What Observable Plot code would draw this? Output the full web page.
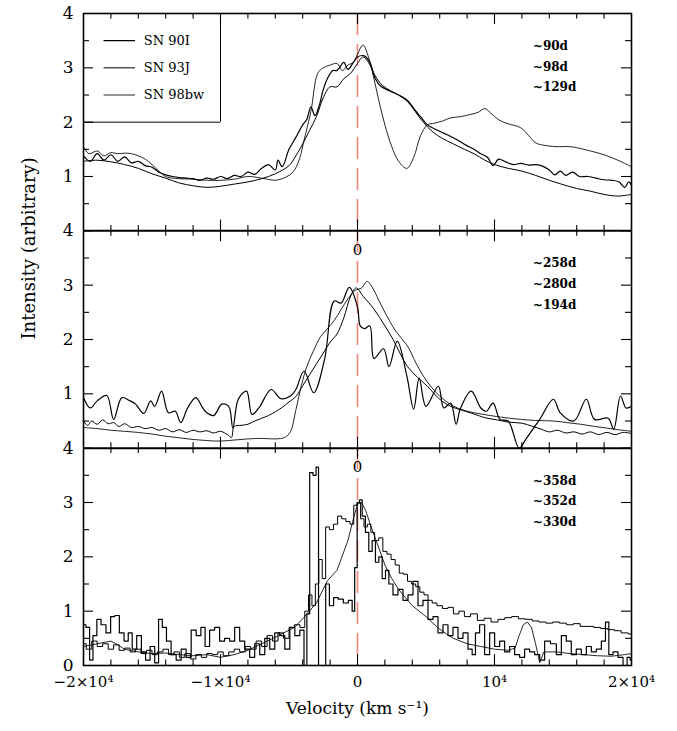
<!DOCTYPE html>
<html><head><meta charset="utf-8">
<script src="https://cdn.jsdelivr.net/npm/d3@7"></script>
<script src="https://cdn.jsdelivr.net/npm/@observablehq/plot@0.6"></script>
<style>body{margin:0;background:#fff}svg{display:block}</style>
</head><body><div id="chart"></div>
<script>
// ---------------- DATA (velocity km/s, intensity arbitrary) ----------------
const seriesNames = ["SN 90I", "SN 93J", "SN 98bw"];
const topEpochs = ["~90d", "~98d", "~129d"];
const midEpochs = ["~258d", "~280d", "~194d"];
const botEpochs = ["~358d", "~352d", "~330d"];

const xTickValues = [-20000, -10000, 0, 10000, 20000];
const xTickLabels = ["\u22122\u00d710\u2074", "\u22121\u00d710\u2074", "0", "10\u2074", "2\u00d710\u2074"];
const yTickValues = [0,1,2,3,4,5,6,7,8,9,10,11,12];
const yTickLabels = ["0","1","2","3","4","1","2","3","4","1","2","3","4"];

// Top panel
const top90I = [[-20000,1.38],[-19500,1.28],[-19000,1.42],[-18500,1.3],[-18000,1.4],[-17500,1.28],[-17000,1.36],[-16500,1.25],[-16000,1.28],[-15500,1.2],[-15000,1.17],[-14500,1.08],[-14000,1.03],[-13500,1.0],[-13000,0.98],[-12500,0.97],[-12000,0.96],[-11500,0.93],[-11000,0.97],[-10500,0.95],[-10000,1.0],[-9500,0.96],[-9000,1.02],[-8500,1.0],[-8000,1.08],[-7500,1.04],[-7000,1.15],[-6500,1.22],[-6000,1.12],[-5800,1.3],[-5500,1.18],[-5000,1.5],[-4500,1.72],[-4000,1.95],[-3700,2.05],[-3400,2.28],[-3100,2.12],[-2800,2.3],[-2500,2.6],[-2200,2.8],[-1800,2.95],[-1500,2.95],[-1000,3.1],[-700,2.97],[-300,3.1],[0,3.2],[500,3.22],[900,3.1],[1300,2.8],[1700,2.66],[2400,2.57],[3000,2.5],[3650,2.4],[4200,2.22],[4600,2.1],[5100,1.95],[5600,1.88],[6100,1.82],[6700,1.75],[7300,1.67],[7900,1.58],[8500,1.5],[9000,1.42],[9500,1.35],[9900,1.2],[10300,1.32],[10800,1.27],[11400,1.22],[11900,1.24],[12500,1.21],[13000,1.22],[13400,1.2],[14000,1.12],[14400,1.03],[14800,1.1],[15200,1.02],[15700,1.08],[16200,1.0],[16800,1.0],[17400,0.97],[18000,0.94],[18600,0.93],[19100,0.9],[19500,0.8],[19800,0.9],[20000,0.84]];
const top93J = [[-20000,1.28],[-19000,1.3],[-18000,1.27],[-17000,1.22],[-16000,1.15],[-15000,1.05],[-14000,0.97],[-13000,0.88],[-12000,0.83],[-11000,0.8],[-10000,0.82],[-9000,0.86],[-8000,0.9],[-7000,0.96],[-6000,1.05],[-5000,1.2],[-4500,1.38],[-4000,1.6],[-3500,1.85],[-3000,2.1],[-2500,2.45],[-2000,2.65],[-1500,2.65],[-1000,2.8],[-500,2.9],[0,3.08],[400,3.2],[800,3.1],[1300,2.85],[1800,2.68],[2400,2.58],[3000,2.5],[3650,2.38],[4200,2.2],[4800,2.0],[5500,1.82],[6200,1.7],[7000,1.6],[7800,1.5],[8500,1.42],[9300,1.3],[10000,1.22],[11000,1.15],[12000,1.1],[13000,1.02],[14000,0.93],[15000,0.85],[16000,0.78],[17000,0.73],[18000,0.67],[19000,0.64],[20000,0.67]];
const top98bw = [[-20000,1.55],[-19600,1.42],[-19000,1.47],[-18500,1.38],[-18000,1.44],[-17500,1.42],[-17000,1.43],[-16500,1.42],[-16000,1.38],[-15500,1.32],[-15000,1.22],[-14500,1.1],[-14000,1.0],[-13500,0.97],[-13000,0.96],[-12000,0.95],[-11000,0.93],[-10000,0.93],[-9000,0.95],[-8000,1.0],[-7000,0.97],[-6000,0.93],[-5500,0.96],[-5000,1.02],[-4600,1.12],[-4200,1.35],[-3900,1.67],[-3400,2.2],[-2900,2.9],[-2500,3.0],[-2000,3.05],[-1500,3.08],[-1100,2.95],[-700,3.05],[-300,3.1],[0,3.25],[400,3.42],[800,3.2],[1200,2.8],[1600,2.35],[2000,1.95],[2500,1.55],[3000,1.28],[3600,1.15],[4100,1.35],[4600,1.75],[5100,1.95],[5600,1.98],[6200,2.02],[6800,2.08],[7500,2.1],[8200,2.14],[8800,2.18],[9300,2.25],[9800,2.15],[10400,2.03],[11000,1.97],[11900,1.9],[12500,1.75],[13000,1.62],[13500,1.58],[14500,1.55],[15500,1.55],[16000,1.53],[17000,1.47],[18000,1.4],[19000,1.3],[20000,1.18]];

// Middle panel
const mid90I = [[-20000,0.93],[-19500,0.74],[-19000,0.87],[-18300,0.97],[-17800,0.53],[-17200,0.93],[-16600,0.87],[-16200,0.81],[-15600,0.64],[-15100,0.87],[-14800,0.77],[-14300,1.05],[-13800,0.65],[-13300,0.68],[-12900,0.47],[-12400,0.74],[-11800,0.93],[-11300,0.74],[-11000,0.65],[-10500,0.6],[-9900,0.81],[-9400,0.77],[-9100,0.37],[-8700,0.9],[-8100,1.05],[-7700,0.62],[-7200,0.74],[-6300,1.08],[-5600,0.91],[-4900,0.96],[-4500,1.08],[-3900,1.42],[-3200,1.02],[-2400,1.64],[-1700,2.71],[-1200,2.67],[-600,2.96],[0,2.6],[200,2.25],[500,2.2],[900,2.25],[1200,1.65],[1900,1.83],[2300,1.5],[2900,1.97],[3600,1.33],[4100,0.72],[4500,1.29],[5000,0.77],[5900,1.14],[6300,0.74],[6800,0.83],[7200,0.44],[7500,0.72],[8300,1.05],[9000,0.74],[9400,0.68],[9900,0.83],[10400,0.53],[11000,0.5],[11800,0.0],[12300,0.17],[13300,0.53],[14300,0.9],[14800,0.65],[15800,0.5],[16700,0.9],[17300,0.53],[18300,0.55],[18700,0.35],[19200,0.96],[19600,0.74],[20000,0.77]];
const mid93J = [[-20000,0.5],[-19700,0.42],[-19400,0.5],[-19000,0.44],[-18600,0.52],[-18200,0.45],[-17800,0.47],[-17400,0.4],[-17000,0.45],[-16500,0.38],[-16000,0.4],[-15500,0.36],[-15000,0.38],[-14500,0.33],[-14000,0.36],[-13500,0.3],[-13000,0.34],[-12500,0.29],[-12000,0.33],[-11500,0.3],[-11000,0.32],[-10500,0.28],[-10000,0.31],[-9500,0.25],[-9200,0.2],[-9000,0.4],[-8500,0.42],[-8000,0.44],[-7500,0.5],[-7000,0.55],[-6500,0.6],[-6000,0.67],[-5500,0.75],[-5000,0.85],[-4500,0.95],[-4000,1.15],[-3500,1.35],[-3000,1.55],[-2500,1.75],[-2000,1.95],[-1500,2.1],[-1000,2.4],[-500,2.8],[-100,2.95],[400,2.8],[1200,2.56],[2000,2.25],[2600,2.0],[3100,1.75],[3650,1.5],[4400,1.3],[5100,1.14],[6000,0.9],[6800,0.77],[7600,0.7],[8500,0.63],[9300,0.56],[10200,0.52],[11000,0.48],[12000,0.46],[12800,0.4],[13400,0.35],[14000,0.3],[14600,0.33],[15200,0.28],[15800,0.3],[16400,0.26],[17000,0.3],[17600,0.25],[18200,0.29],[18800,0.25],[19400,0.29],[20000,0.27]];
const mid98bw = [[-20000,0.38],[-19000,0.36],[-18000,0.33],[-17000,0.31],[-16000,0.29],[-15000,0.26],[-14000,0.22],[-13000,0.19],[-12000,0.16],[-11000,0.14],[-10000,0.13],[-9000,0.15],[-8000,0.17],[-7000,0.18],[-6000,0.17],[-5300,0.2],[-4900,0.3],[-4500,0.7],[-4100,1.15],[-3700,1.5],[-3200,1.8],[-2700,2.05],[-2200,2.2],[-1700,2.35],[-1200,2.55],[-700,2.75],[-200,2.9],[300,2.95],[700,3.07],[1100,2.95],[1600,2.7],[2000,2.5],[2800,2.15],[3650,1.88],[4300,1.55],[4800,1.33],[5400,1.12],[6000,0.96],[6700,0.82],[7300,0.74],[8000,0.68],[9000,0.63],[10500,0.57],[11900,0.53],[13000,0.51],[14300,0.5],[15300,0.47],[16300,0.44],[17300,0.4],[18200,0.37],[19000,0.34],[20000,0.31]];

// Bottom panel
const bot90I = [[-20000,0.75],[-19640,0.7],[-19470,0.1],[-19150,0.55],[-18900,0.85],[-18540,0.75],[-18180,0.6],[-17860,0.9],[-17570,0.92],[-17200,0.6],[-16880,0.45],[-16590,0.6],[-16300,0.3],[-15930,0.55],[-15620,0.25],[-15320,0.1],[-14960,0.35],[-14640,0.05],[-14400,0.85],[-14100,0.7],[-13790,0.45],[-13420,0.2],[-13050,0.1],[-12690,0.3],[-12320,0.15],[-11960,0.65],[-11590,0.55],[-11270,0.7],[-10980,0.35],[-10610,0.65],[-10250,0.7],[-9880,0.45],[-9520,0.5],[-9150,0.45],[-8780,0.7],[-8420,0.45],[-8050,0.3],[-7690,0.15],[-7320,0.4],[-6950,0.2],[-6590,0.5],[-6220,0.3],[-5860,0.6],[-5490,0.55],[-5120,0.3],[-4760,0.7],[-4390,0.55],[-4030,0.65],[-3780,0.0],[-3610,0.95],[-3370,3.55],[-3120,3.5],[-2930,3.65],[-2760,0.0],[-2440,0.0],[-2200,1.5],[-1900,1.1],[-1590,1.25],[-1220,1.22],[-850,1.15],[-490,1.2],[-290,1.0],[-120,1.8],[70,3.0],[220,3.05],[460,2.75],[700,2.45],[950,2.1],[1190,2.3],[1430,1.9],[1680,2.0],[1920,1.6],[2170,1.75],[2410,1.5],[2770,1.3],[3140,1.4],[3500,1.2],[3870,1.3],[4230,1.55],[4600,1.1],[4960,1.2],[5330,0.85],[5690,0.9],[6060,0.6],[6420,0.75],[6790,0.55],[7150,0.7],[7520,0.5],[7880,0.6],[8250,0.3],[8490,0.2],[8730,0.6],[9100,0.75],[9460,0.2],[9830,0.6],[10190,0.35],[10560,0.45],[10920,0.25],[11290,0.35],[11650,0.2],[12020,0.15],[12380,0.3],[12750,0.25],[13110,0.2],[13480,0.1],[13840,0.45],[14330,0.4],[14700,0.2],[15060,0.55],[15420,0.45],[15790,0.2],[16150,0.3],[16520,0.2],[16890,0.35],[17250,0.25],[17620,0.3],[17980,0.45],[18220,0.8],[18470,0.2],[18830,0.25],[19200,0.15],[19560,0.0],[19800,0.15],[20000,0.1]];
const bot93J = [[-20000,0.4],[-19600,0.3],[-19200,0.45],[-18800,0.35],[-18400,0.4],[-18000,0.3],[-17600,0.38],[-17200,0.28],[-16800,0.32],[-16400,0.25],[-16000,0.3],[-15600,0.22],[-15200,0.28],[-14800,0.2],[-14400,0.25],[-14000,0.3],[-13600,0.2],[-13200,0.25],[-12800,0.15],[-12400,0.22],[-12000,0.12],[-11600,0.2],[-11200,0.15],[-10800,0.22],[-10400,0.2],[-10000,0.25],[-9600,0.18],[-9200,0.25],[-8800,0.3],[-8400,0.25],[-8000,0.35],[-7600,0.3],[-7200,0.45],[-6800,0.35],[-6400,0.55],[-6000,0.45],[-5600,0.6],[-5200,0.5],[-4800,0.7],[-4400,0.75],[-4000,0.7],[-3700,1.0],[-3450,1.3],[-3200,1.1],[-2950,1.5],[-2700,1.95],[-2450,1.6],[-2200,2.55],[-1900,2.5],[-1600,2.6],[-1300,2.75],[-1000,2.7],[-700,2.65],[-400,2.6],[-150,2.95],[100,3.0],[350,2.7],[600,2.55],[850,2.6],[1100,2.45],[1400,2.3],[1700,2.35],[2000,2.1],[2300,2.05],[2600,1.95],[2900,1.85],[3200,1.7],[3500,1.68],[3800,1.55],[4100,1.5],[4400,1.45],[4700,1.35],[5000,1.3],[5300,1.2],[5600,1.15],[6000,1.1],[6400,1.05],[6800,1.07],[7200,0.95],[7600,1.0],[8000,0.9],[8500,0.95],[9000,0.83],[9500,0.87],[10000,0.8],[10500,0.85],[11000,0.88],[11500,0.9],[12000,0.86],[12500,0.85],[13000,0.82],[13500,0.8],[14000,0.78],[14500,0.8],[15000,0.78],[15500,0.75],[16000,0.77],[16500,0.72],[17000,0.72],[17500,0.7],[18000,0.68],[18500,0.66],[19000,0.64],[19500,0.6],[20000,0.58]];
const bot98bw = [[-20000,0.35],[-19000,0.4],[-18000,0.45],[-17500,0.38],[-17000,0.3],[-16000,0.25],[-15000,0.22],[-14000,0.23],[-13000,0.2],[-12000,0.18],[-11000,0.2],[-10000,0.15],[-9000,0.2],[-8000,0.28],[-7000,0.4],[-6000,0.52],[-5000,0.65],[-4600,0.7],[-3900,0.89],[-3000,1.15],[-2200,1.56],[-1500,1.75],[-700,2.3],[-300,2.7],[0,2.97],[300,3.0],[600,2.85],[1000,2.55],[1500,2.2],[2000,1.85],[2500,1.6],[3000,1.4],[3500,1.25],[4000,1.1],[4500,1.0],[5000,0.9],[5500,0.78],[6000,0.67],[6500,0.58],[7000,0.5],[7500,0.45],[8000,0.4],[9000,0.35],[10000,0.3],[11000,0.28],[11500,0.32],[11800,0.55],[12100,0.75],[12400,0.8],[12700,0.7],[13000,0.4],[13300,0.05],[13600,0.25],[14500,0.25],[15500,0.22],[16500,0.2],[17500,0.18],[18500,0.17],[19500,0.2],[20000,0.22]];

// ---------------- BUILD ----------------
const FONT = "DejaVu Serif";
const widths = [1.2, 1.0, 0.85];
const panels = [
  {off: 8, series: [top90I, top93J, top98bw], curve: ["catmull-rom","catmull-rom","catmull-rom"], epochs: topEpochs, zero: false},
  {off: 4, series: [mid90I, mid93J, mid98bw], curve: ["catmull-rom","catmull-rom","catmull-rom"], epochs: midEpochs, zero: true},
  {off: 0, series: [bot90I, bot93J, bot98bw], curve: ["step","step","linear"], epochs: botEpochs, zero: true}
];

const marks = [];
// red zero-velocity line
marks.push(Plot.ruleX([0], {stroke: "#f2877d", strokeWidth: 1.6, strokeDasharray: "22,9"}));

// spectra
panels.forEach(p => {
  p.series.forEach((s, i) => {
    marks.push(Plot.line(s, {x: d => d[0], y: d => d[1] + p.off, curve: p.curve[i], stroke: "black", strokeWidth: widths[i]}));
  });
  marks.push(Plot.text(p.epochs, {x: 12800, y: (d, i) => p.off + 3.4 - 0.38 * i, text: d => d, textAnchor: "start", fontSize: 12, fontWeight: "bold", fill: "black"}));
  if (p.zero) marks.push(Plot.text(["0"], {x: 0, y: p.off + 3.65, text: d => d, fontSize: 15, fill: "black"}));
});

// tick marks (inside, all four sides of every panel)
const xTicks = [];
d3.range(-18000, 20000, 2000).forEach(v => {
  const len = (v % 10000 === 0) ? 0.2 : 0.1;
  [0, 4, 8].forEach(b => {
    xTicks.push({x: v, y1: b, y2: b + len});
    xTicks.push({x: v, y1: b + 4 - len, y2: b + 4});
  });
});
const yTicks = [];
d3.range(0.5, 12, 0.5).forEach(y => {
  const len = Number.isInteger(y) ? 730 : 440;
  yTicks.push({y, x1: -20000, x2: -20000 + len});
  yTicks.push({y, x1: 20000 - len, x2: 20000});
});
marks.push(Plot.ruleX(xTicks, {x: "x", y1: "y1", y2: "y2", stroke: "black", strokeWidth: 1.1}));
marks.push(Plot.ruleY(yTicks, {y: "y", x1: "x1", x2: "x2", stroke: "black", strokeWidth: 1.1}));

// panel borders
marks.push(Plot.ruleY([4, 8], {stroke: "black", strokeWidth: 2}));
marks.push(Plot.frame({stroke: "black", strokeWidth: 1.6}));

// legend box (top-left of top panel)
marks.push(Plot.ruleX([-10000], {y1: 10, y2: 12, stroke: "black", strokeWidth: 1}));
marks.push(Plot.ruleY([10], {x1: -20000, x2: -10000, stroke: "black", strokeWidth: 1}));
marks.push(Plot.ruleY(seriesNames, {y: (d, i) => 11.5 - 0.5 * i, x1: -18500, x2: -16200, stroke: "black", strokeWidth: (d, i) => widths[i]}));
marks.push(Plot.text(seriesNames, {x: -15600, y: (d, i) => 11.5 - 0.5 * i, text: d => d, textAnchor: "start", fontSize: 13, fill: "black"}));

// axes
marks.push(Plot.axisX({ticks: xTickValues, tickFormat: d => xTickLabels[xTickValues.indexOf(d)], tickSize: 0, tickPadding: 11, fontSize: 15, label: null}));
marks.push(Plot.axisY({ticks: yTickValues, tickFormat: d => yTickLabels[yTickValues.indexOf(d)], tickSize: 0, tickPadding: 10, fontSize: 17, label: null}));
marks.push(Plot.text(["Velocity (km s\u207b\u00b9)"], {frameAnchor: "bottom", dy: 48, text: d => d, fontSize: 17, fill: "black"}));
marks.push(Plot.text(["Intensity (arbitrary)"], {frameAnchor: "left", dx: -54, rotate: -90, text: d => d, fontSize: 18, fill: "black"}));

const chart = Plot.plot({
  width: 677, height: 731,
  marginLeft: 83, marginRight: 46, marginTop: 13, marginBottom: 66,
  style: {fontFamily: FONT, background: "white", color: "black"},
  x: {domain: [-20000, 20000]},
  y: {domain: [0, 12]},
  marks
});
document.getElementById("chart").appendChild(chart);
</script>
</body></html>
